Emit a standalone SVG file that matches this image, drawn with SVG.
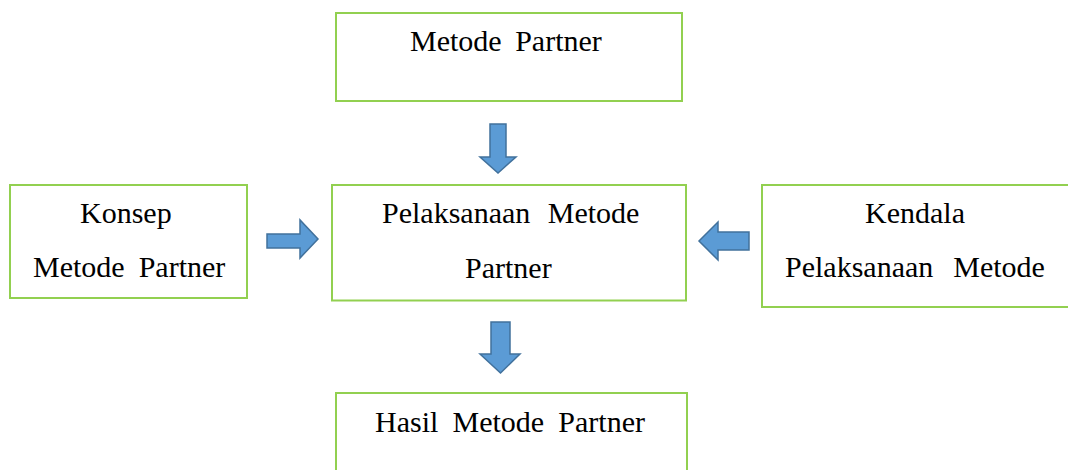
<svg xmlns="http://www.w3.org/2000/svg" width="1068" height="470" viewBox="0 0 1068 470">
<style>
.box{fill:#FFFFFF;stroke:#92D050;stroke-width:2}
.t{font-family:"Liberation Serif","Times New Roman","DejaVu Serif",serif;font-size:30px;fill:#000000}
.arr{fill:#5B9BD5;stroke:#41719C;stroke-width:1.5;stroke-linejoin:miter}
</style>
<rect width="1068" height="470" fill="#FFFFFF"/>
<g id="node-metode-partner">
<rect class="box" x="336" y="13" width="346" height="88"/>
<text class="t" x="410" y="51" word-spacing="6">Metode Partner</text>
</g>
<g id="node-konsep">
<rect class="box" x="10" y="185" width="237" height="113"/>
<text class="t" x="80" y="223">Konsep</text>
<text class="t" x="33" y="277" word-spacing="6.5">Metode Partner</text>
</g>
<g id="node-pelaksanaan">
<rect class="box" x="332" y="185" width="354" height="115.5"/>
<text class="t" x="382" y="223" word-spacing="10">Pelaksanaan Metode</text>
<text class="t" x="465" y="278">Partner</text>
</g>
<g id="node-kendala">
<rect class="box" x="762" y="185" width="320" height="122"/>
<text class="t" x="865" y="223">Kendala</text>
<text class="t" x="785" y="277" word-spacing="12.5">Pelaksanaan Metode</text>
</g>
<g id="node-hasil">
<rect class="box" x="336" y="393" width="351" height="100"/>
<text class="t" x="375" y="432" word-spacing="6.7">Hasil Metode Partner</text>
</g>
<g id="connectors">
<polygon class="arr" points="490,124 506,124 506,157 516,157 498,173 480,157 490,157"/>
<polygon class="arr" points="267,234 300,234 300,220 318,239 300,258 300,248 267,248"/>
<polygon class="arr" points="749,232 718,232 718,222 699,241 718,260 718,250 749,250"/>
<polygon class="arr" points="491,322 510,322 510,354 520,354 500.5,373 480,354 491,354"/>
</g>
</svg>
